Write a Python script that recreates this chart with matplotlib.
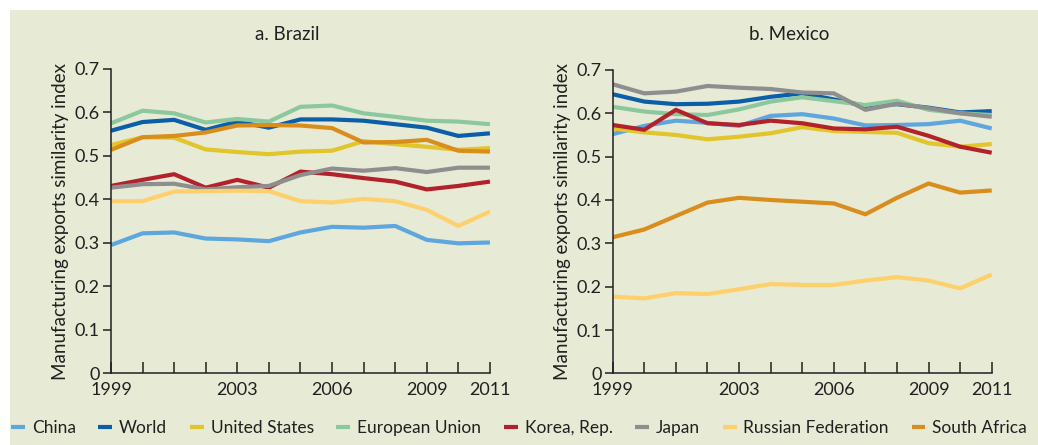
import numpy as np
import matplotlib.pyplot as plt
from matplotlib.patches import Rectangle

plt.rcParams['font.family'] = ['Lato', 'DejaVu Sans']

# ============== Data ==============
years = list(range(1999, 2012))
labelled_years = [1999, 2003, 2006, 2009, 2011]
partners = ["China", "World", "United States", "European Union",
            "Korea, Rep.", "Japan", "Russian Federation", "South Africa"]
colors = ["#5ea6dd", "#0b5ea8", "#e1c52a", "#8cc89e",
          "#b3222b", "#8e8e8e", "#fed06c", "#d98d1d"]

brazil_china = [0.295, 0.322, 0.324, 0.310, 0.308, 0.304, 0.324, 0.337, 0.335, 0.339, 0.307, 0.299, 0.301]
brazil_world = [0.558, 0.578, 0.583, 0.560, 0.579, 0.565, 0.584, 0.584, 0.581, 0.573, 0.565, 0.546, 0.552]
brazil_us = [0.525, 0.543, 0.542, 0.515, 0.509, 0.504, 0.510, 0.512, 0.534, 0.527, 0.521, 0.514, 0.518]
brazil_eu = [0.575, 0.604, 0.598, 0.577, 0.585, 0.579, 0.613, 0.616, 0.598, 0.590, 0.581, 0.579, 0.573]
brazil_korea = [0.431, 0.445, 0.458, 0.427, 0.445, 0.427, 0.464, 0.458, 0.449, 0.441, 0.423, 0.431, 0.441]
brazil_japan = [0.427, 0.435, 0.436, 0.423, 0.428, 0.431, 0.456, 0.471, 0.466, 0.472, 0.463, 0.473, 0.473]
brazil_russia = [0.396, 0.396, 0.418, 0.419, 0.420, 0.419, 0.396, 0.393, 0.401, 0.396, 0.376, 0.339, 0.372]
brazil_safrica = [0.514, 0.543, 0.546, 0.554, 0.570, 0.571, 0.570, 0.564, 0.531, 0.532, 0.537, 0.512, 0.510]

mexico_china = [0.552, 0.571, 0.583, 0.578, 0.571, 0.594, 0.598, 0.588, 0.572, 0.573, 0.575, 0.583, 0.565]
mexico_world = [0.644, 0.627, 0.621, 0.622, 0.627, 0.638, 0.646, 0.632, 0.617, 0.621, 0.613, 0.602, 0.605]
mexico_us = [0.565, 0.556, 0.550, 0.540, 0.546, 0.554, 0.568, 0.559, 0.557, 0.555, 0.531, 0.523, 0.529]
mexico_eu = [0.615, 0.604, 0.598, 0.596, 0.609, 0.627, 0.637, 0.628, 0.619, 0.629, 0.608, 0.600, 0.596]
mexico_korea = [0.573, 0.562, 0.608, 0.577, 0.573, 0.583, 0.577, 0.565, 0.563, 0.569, 0.548, 0.523, 0.509]
mexico_japan = [0.667, 0.646, 0.650, 0.663, 0.659, 0.656, 0.648, 0.646, 0.608, 0.622, 0.612, 0.600, 0.592]
mexico_russia = [0.177, 0.173, 0.185, 0.183, 0.194, 0.206, 0.204, 0.204, 0.214, 0.222, 0.214, 0.196, 0.228]
mexico_safrica = [0.314, 0.332, 0.363, 0.394, 0.405, 0.400, 0.396, 0.392, 0.367, 0.405, 0.438, 0.417, 0.422]

brazil = [brazil_china, brazil_world, brazil_us, brazil_eu,
          brazil_korea, brazil_japan, brazil_russia, brazil_safrica]
mexico = [mexico_china, mexico_world, mexico_us, mexico_eu,
          mexico_korea, mexico_japan, mexico_russia, mexico_safrica]
# ==================================

BG = "#e7ead5"
TXT = "#231f20"
FS = 13.5

fig = plt.figure(figsize=(10.38, 4.45), dpi=100)
fig.patch.set_facecolor("white")
fig.add_artist(Rectangle((10 / 1038, 0), 1 - 10 / 1038, 1 - 10 / 445,
                         transform=fig.transFigure, facecolor=BG,
                         edgecolor="none", zorder=-10))

ax1 = fig.add_axes([0.1069, 0.1610, 0.3651, 0.6840])
ax2 = fig.add_axes([0.5903, 0.1610, 0.3651, 0.6818])


def style_panel(ax, series, title, title_x):
    # draw order: lighter lines underneath as in the reference
    order = [6, 7, 0, 2, 4, 5, 3, 1]
    for i in order:
        ax.plot(years, series[i], color=colors[i], lw=3,
                solid_capstyle="butt", label=partners[i], zorder=2 + i * 0.01)
    ax.set_facecolor("none")
    ax.set_xlim(1999, 2011)
    ax.set_ylim(0, 0.7)
    for s in ["top", "right"]:
        ax.spines[s].set_visible(False)
    for s in ["left", "bottom"]:
        ax.spines[s].set_color(TXT)
        ax.spines[s].set_linewidth(1.1)
        ax.spines[s].set_zorder(5)
    ax.set_yticks(np.arange(0, 0.71, 0.1))
    ax.set_yticklabels(["0"] + [f"{v:.1f}" for v in np.arange(0.1, 0.71, 0.1)])
    ax.set_xticks(years)
    ax.set_xticklabels([str(y) if y in labelled_years else "" for y in years])
    ax.tick_params(axis="x", direction="in", length=8, width=1.1,
                   colors=TXT, labelsize=13, pad=6)
    ax.tick_params(axis="y", direction="out", length=6, width=1.1,
                   colors=TXT, labelsize=13, pad=2)
    ax.set_ylabel("Manufacturing exports similarity index", fontsize=FS,
                  color=TXT, labelpad=4)
    fig.text(title_x, 1 - 35 / 445, title, ha="center", va="center",
             fontsize=FS, color=TXT)


style_panel(ax1, brazil, "a. Brazil", 287 / 1038)
style_panel(ax2, mexico, "b. Mexico", 789 / 1038)

handles, labels = ax1.get_legend_handles_labels()
lookup = dict(zip(labels, handles))
fig.legend([lookup[p] for p in partners], partners, loc="center",
           bbox_to_anchor=(0.5, 1 - 428 / 445), ncol=8, frameon=False,
           fontsize=12.5, handlelength=0.8, handletextpad=0.4,
           columnspacing=1.3, labelcolor=TXT)

fig.savefig("out.png", dpi=100, facecolor=fig.get_facecolor())
